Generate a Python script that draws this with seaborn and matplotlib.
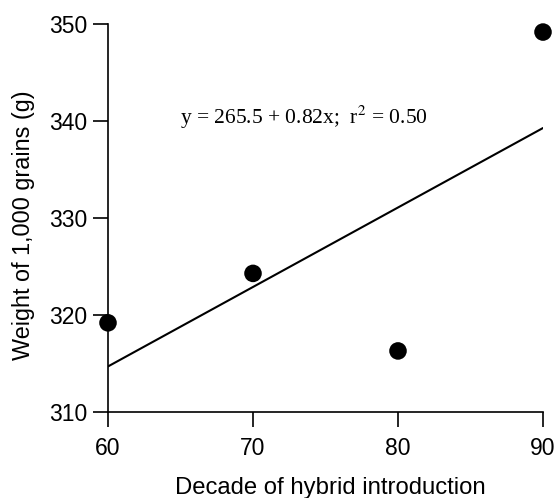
import matplotlib
matplotlib.use("Agg")
import matplotlib.pyplot as plt
import seaborn as sns
import numpy as np
import pandas as pd

# Data
decades = [60, 70, 80, 90]
weights = [319.2, 324.3, 316.3, 349.2]
intercept = 265.5
slope = 0.82
r2 = 0.50
x_ticks = [60, 70, 80, 90]
y_ticks = [310, 320, 330, 340, 350]

sns.set_style("white")
plt.rcParams['font.family'] = ['Liberation Sans', 'DejaVu Sans']
plt.rcParams['text.color'] = 'black'
plt.rcParams['axes.labelcolor'] = 'black'
plt.rcParams['xtick.color'] = 'black'
plt.rcParams['ytick.color'] = 'black'

fig = plt.figure(figsize=(5.55, 4.98), dpi=100)
ax = fig.add_axes([108/555, 1 - 412/498, (543 - 108)/555, (412 - 24.3)/498])

df = pd.DataFrame({"decade": decades, "weight": weights})
line_x = np.array([decades[0], decades[-1]])
line_df = pd.DataFrame({"x": line_x, "y": intercept + slope * line_x})

sns.lineplot(data=line_df, x="x", y="y", ax=ax, color="black", linewidth=1.5)
sns.scatterplot(data=df, x="decade", y="weight", ax=ax, color="black", s=160,
                edgecolor="none", clip_on=False, zorder=5)

ax.set_xlim(60, 90)
ax.set_ylim(310, 350)
ax.set_xticks(x_ticks)
ax.set_yticks(y_ticks)
ax.tick_params(axis="both", direction="out", length=11, width=1.2, color="black",
               labelsize=16.5, labelcolor="black", left=True, bottom=True)
ax.tick_params(axis="x", pad=7)
ax.tick_params(axis="y", pad=4)
for s in ["top", "right"]:
    ax.spines[s].set_visible(False)
for s in ["left", "bottom"]:
    ax.spines[s].set_color("black")
    ax.spines[s].set_linewidth(1.2)

ax.set_xlabel("Decade of hybrid introduction", fontsize=17.2, labelpad=12, color="black")
ax.set_ylabel("Weight of 1,000 grains (g)", fontsize=16.8, labelpad=10, color="black")
ax.xaxis.label.set_x(0.511)
ax.yaxis.label.set_y(0.482)

ax.text(0.451, 0.76, "y = 265.5 + 0.82x;  r$^2$ = 0.50", transform=ax.transAxes,
        ha="center", va="center", fontsize=15.5, family=["Liberation Serif"],
        math_fontfamily="stix", color="black")

fig.savefig("out.png", dpi=100)
